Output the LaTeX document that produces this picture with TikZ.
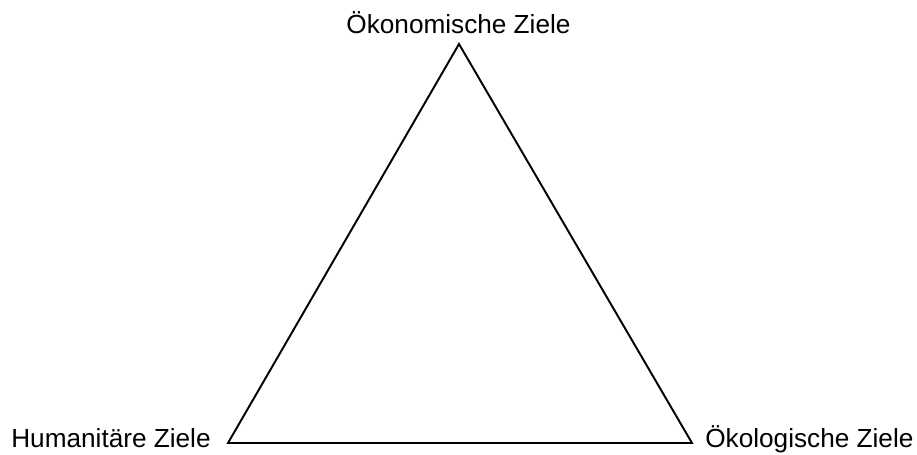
\documentclass[tikz,border=0pt]{standalone}
\usepackage{fontspec}
\setmainfont{Liberation Sans}
\usetikzlibrary{positioning}

\begin{document}
\begin{tikzpicture}[x=0.02cm,y=-0.02cm,line join=miter,
 lbl/.style={inner sep=0pt,font=\fontsize{14.9}{18}\selectfont},
 side/.style={draw,line width=1.1pt}]
\useasboundingbox (0,0) rectangle (917,454);
% corners of the triangle
\coordinate (top) at (459,44);
\coordinate (hum) at (228,443);
\coordinate (oek) at (692,443);
\draw[side] (top) -- (hum) -- (oek) -- cycle;
% goals
\node[lbl,anchor=base] (ltop) at (458.5,33) {Ökonomische Ziele};
\node[lbl,anchor=base east] (lhum) at (211,447) {Humanitäre Ziele};
\node[lbl,anchor=base west] (loek) at (705,447) {Ökologische Ziele};
\end{tikzpicture}
\end{document}
